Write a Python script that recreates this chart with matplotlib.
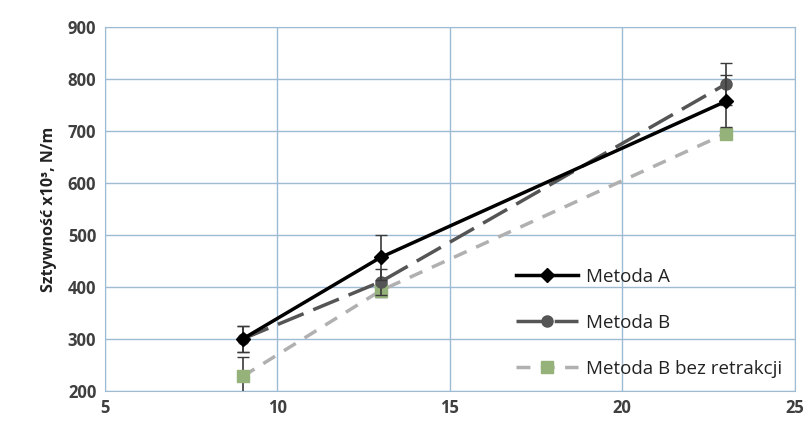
import matplotlib
matplotlib.use("Agg")
import matplotlib.pyplot as plt
from matplotlib.lines import Line2D

x = [9, 13, 23]
metoda_a = [300, 457, 757]
metoda_a_err = [25, 43, 50]
metoda_b = [300, 410, 790]
metoda_b_err = [25, 25, 40]
metoda_b_bez = [228, 393, 695]
metoda_b_bez_err = [38, 12, 10]

plt.rcParams['font.family'] = ['Open Sans', 'DejaVu Sans']
fig = plt.figure(figsize=(8.11, 4.32), dpi=100)
ax = fig.add_axes([0.129, 0.095, 0.851, 0.8425])

grid_c = '#9dbbd3'
sty_bez = dict(color='#b0b0b0', lw=2.5, ls=(0, (4, 3)), marker='s', ms=9,
               mfc='#95b27a', mec='#95b27a')
sty_b = dict(color='#555555', lw=2.5, ls=(0, (8, 3)), marker='o', ms=8,
             mfc='#555555', mec='#555555')
sty_a = dict(color='black', lw=2.5, ls='-', marker='D', ms=7, mfc='black', mec='black')

ax.errorbar(x, metoda_b_bez, yerr=metoda_b_bez_err, ecolor='#3a3a3a', elinewidth=1.2,
            capsize=4, zorder=3, **sty_bez)
ax.errorbar(x, metoda_b, yerr=metoda_b_err, ecolor='#3a3a3a', elinewidth=1.2,
            capsize=4, zorder=4, **sty_b)
ax.errorbar(x, metoda_a, yerr=metoda_a_err, ecolor='#3a3a3a', elinewidth=1.2,
            capsize=4, zorder=5, **sty_a)

ax.set_xlim(5, 25)
ax.set_ylim(200, 900)
ax.set_xticks([5, 10, 15, 20, 25])
ax.set_yticks(range(200, 901, 100))
ax.grid(True, color=grid_c, lw=1)
ax.set_axisbelow(True)
for s in ax.spines.values():
    s.set_color(grid_c)
ax.tick_params(axis='both', colors='#3f3f3f', labelsize=12, length=0, pad=6)
for lab in ax.get_xticklabels() + ax.get_yticklabels():
    lab.set_fontweight('bold')
ax.set_ylabel('Sztywność x10³, N/m', fontsize=11.5, fontweight='bold', color='#222222', labelpad=8)

handles = [Line2D([], [], **sty_a), Line2D([], [], **sty_b), Line2D([], [], **sty_bez)]
labels = ['Metoda A', 'Metoda B', 'Metoda B bez retrakcji']
leg = ax.legend(handles, labels, loc='lower right', bbox_to_anchor=(1.0, 0.0),
                frameon=False, fontsize=13.5, handlelength=3.3, handletextpad=0.4,
                labelspacing=1.5, borderaxespad=0.3)
for t in leg.get_texts():
    t.set_color('#222222')

fig.savefig('out.png', dpi=100)
